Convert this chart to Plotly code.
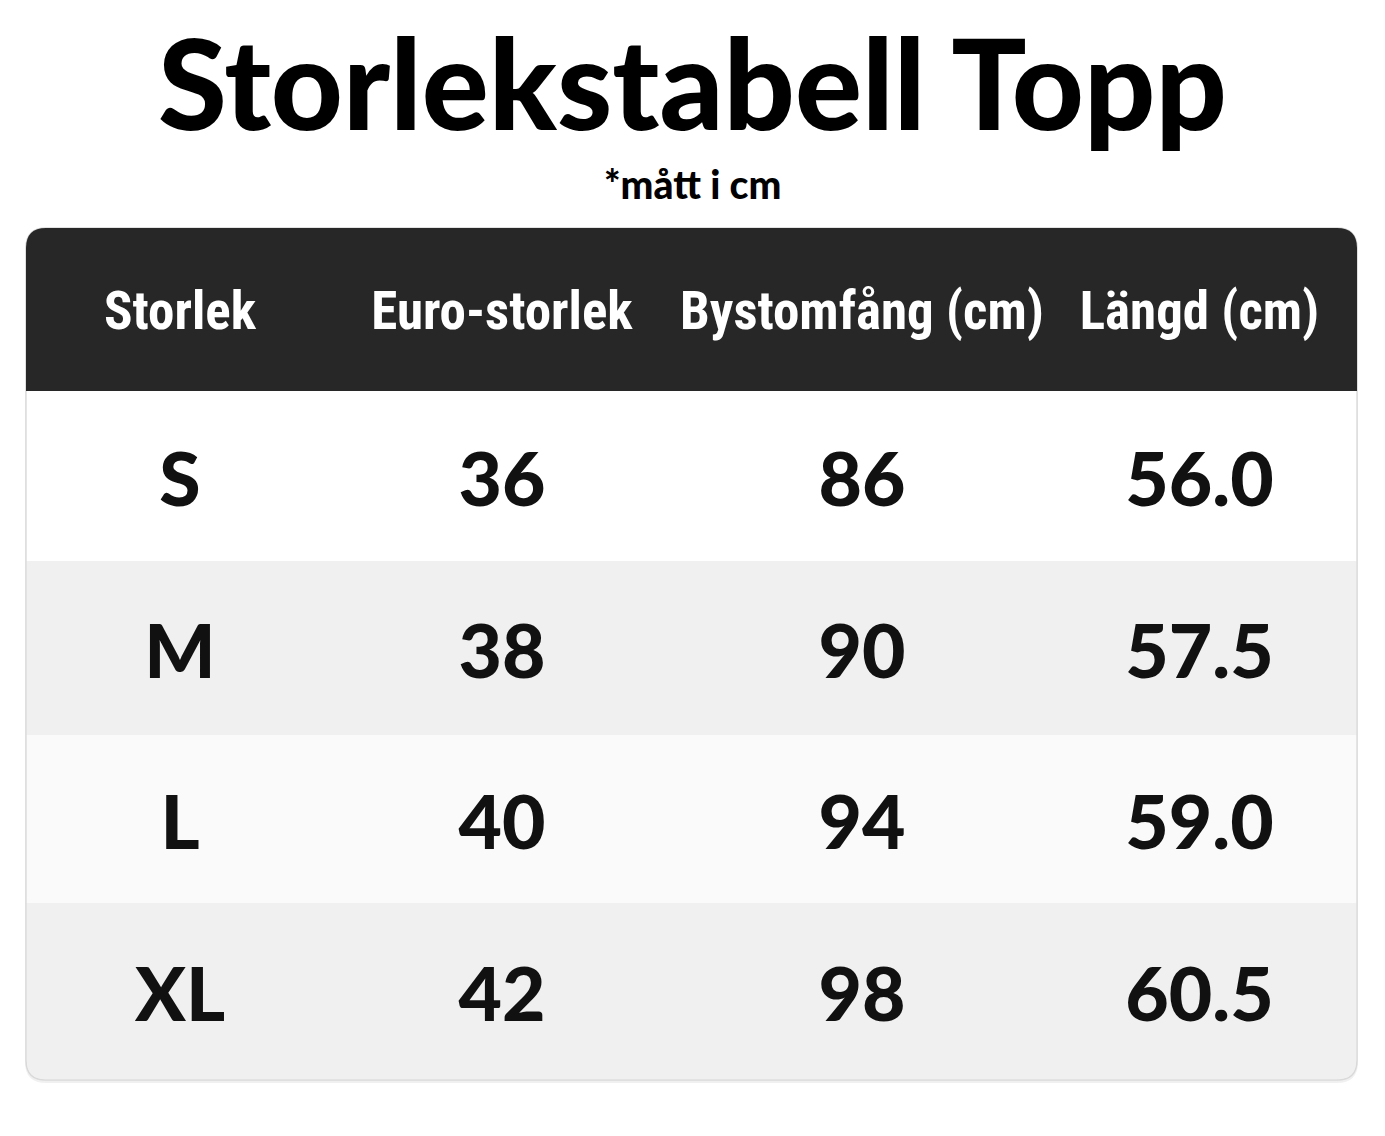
import plotly.graph_objects as go

# ---- data ----
title_text = "Storlekstabell Topp"
subtitle_text = "*mått i cm"
headers = ["Storlek", "Euro-storlek", "Bystomfång (cm)", "Längd (cm)"]
sizes = ["S", "M", "L", "XL"]
euro = [36, 38, 40, 42]
bust = [86, 90, 94, 98]
length = ["56.0", "57.5", "59.0", "60.5"]

# ---- layout / style ----
W, H = 1385, 1136
OFF = 8  # page body margin offset
card_x0, card_y0 = 26, 228
col_widths = [308, 336, 396, 291]
col_shift = [0, 0, -6, -12]
header_h = 163
row_heights = [170, 174, 168, 177]
row_fills = ["#ffffff", "#f0f0f0", "#fafafa", "#f0f0f0"]
header_fill = "#272727"
radius = 20
text_dy = 11

card_x1 = card_x0 + sum(col_widths)
card_y1 = card_y0 + header_h + sum(row_heights)

col_edges = [card_x0]
for w in col_widths:
    col_edges.append(col_edges[-1] + w)
col_centers = [(col_edges[i] + col_edges[i + 1]) / 2 + col_shift[i] for i in range(len(col_widths))]

header_y = card_y0 + header_h / 2 + 6
row_tops = [card_y0 + header_h]
for h in row_heights:
    row_tops.append(row_tops[-1] + h)
row_centers = [(row_tops[i] + row_tops[i + 1]) / 2 + text_dy for i in range(len(row_heights))]


def rounded_path(x0, y0, x1, y1, r, top=True, bottom=True):
    rt = r if top else 0
    rb = r if bottom else 0
    p = f"M {x0 + rt},{y0} L {x1 - rt},{y0} "
    if rt:
        p += f"Q {x1},{y0} {x1},{y0 + rt} "
    p += f"L {x1},{y1 - rb} "
    if rb:
        p += f"Q {x1},{y1} {x1 - rb},{y1} "
    p += f"L {x0 + rb},{y1} "
    if rb:
        p += f"Q {x0},{y1} {x0},{y1 - rb} "
    p += f"L {x0},{y0 + rt} "
    if rt:
        p += f"Q {x0},{y0} {x0 + rt},{y0} "
    return p + "Z"


fig = go.Figure()
shapes = []
shapes.append(dict(type="path", xref="x", yref="y",
                   path=rounded_path(card_x0 - 1, card_y0 + 1, card_x1 + 1, card_y1 + 3, radius + 1),
                   fillcolor="rgba(0,0,0,0.06)", line=dict(width=0), layer="below"))
shapes.append(dict(type="path", xref="x", yref="y",
                   path=rounded_path(card_x0, card_y0, card_x1, card_y1, radius),
                   fillcolor=row_fills[-1], line=dict(color="#d9d9d9", width=1.5), layer="below"))
for i, fill in enumerate(row_fills):
    y0 = row_tops[i]
    y1 = row_tops[i + 1]
    last = i == len(row_fills) - 1
    shapes.append(dict(type="path", xref="x", yref="y",
                       path=rounded_path(card_x0 + 0.8, y0, card_x1 - 0.8, y1 - (0.8 if last else 0), radius - 1,
                                         top=False, bottom=last),
                       fillcolor=fill, line=dict(width=0), layer="below"))
shapes.append(dict(type="path", xref="x", yref="y",
                   path=rounded_path(card_x0, card_y0, card_x1, card_y0 + header_h, radius, top=True, bottom=False),
                   fillcolor=header_fill, line=dict(width=0), layer="below"))

fig.add_trace(go.Scatter(
    x=col_centers, y=[header_y] * len(headers), text=headers, mode="text",
    textfont=dict(family="Roboto Condensed, Open Sans Condensed, Liberation Sans Narrow, Roboto, sans-serif",
                  size=53, color="#ffffff", weight="bold"),
    hoverinfo="skip", showlegend=False))

columns = [sizes, [str(v) for v in euro], [str(v) for v in bust], length]
for ci, col in enumerate(columns):
    fig.add_trace(go.Scatter(
        x=[col_centers[ci]] * len(col), y=row_centers, text=col, mode="text",
        textfont=dict(family="Lato, sans-serif", size=75, color="#111111", weight=900),
        hoverinfo="skip", showlegend=False))

fig.add_annotation(x=W / 2, y=82, xref="x", yref="y", text=title_text, showarrow=False,
                   font=dict(family="Lato, sans-serif", size=125, color="#000000", weight=900),
                   xanchor="center", yanchor="middle")
fig.add_annotation(x=W / 2, y=184, xref="x", yref="y", text=subtitle_text, showarrow=False,
                   font=dict(family="Lato, sans-serif", size=39, color="#000000", weight=900),
                   xanchor="center", yanchor="middle")

fig.update_layout(
    width=W, height=H, margin=dict(l=0, r=0, t=0, b=0),
    paper_bgcolor="#ffffff", plot_bgcolor="#ffffff",
    shapes=shapes,
    xaxis=dict(range=[OFF, W + OFF], visible=False, fixedrange=True),
    yaxis=dict(range=[H + OFF, OFF], visible=False, fixedrange=True),
)
fig.write_html("out.html", config={"displayModeBar": False})
